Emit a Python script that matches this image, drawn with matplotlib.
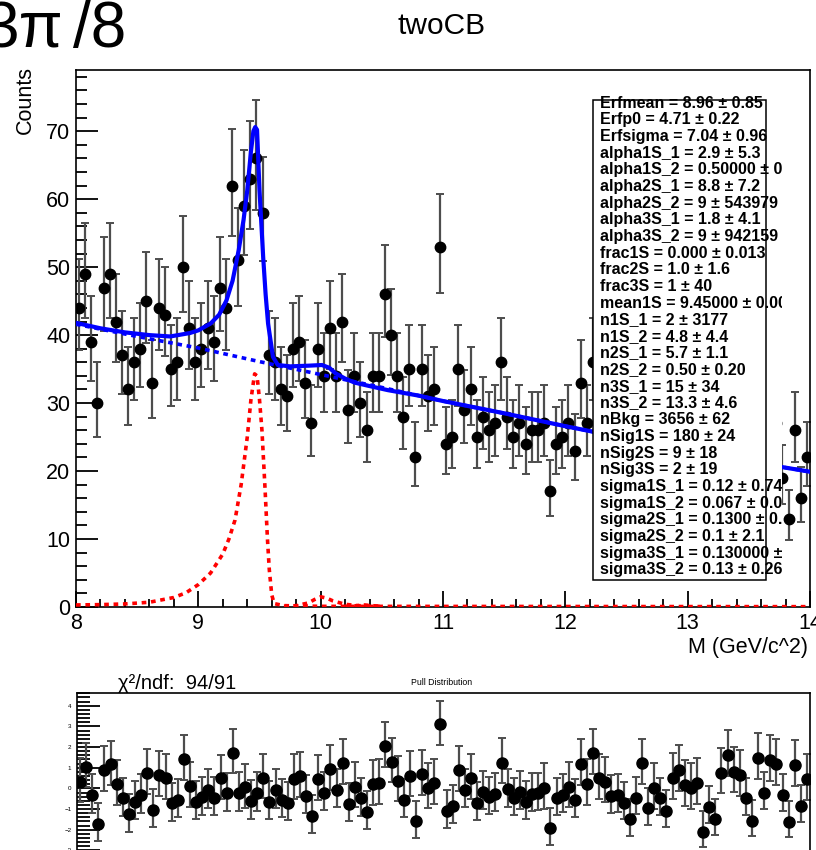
import numpy as np
import matplotlib
matplotlib.use("Agg")
import matplotlib.pyplot as plt
from matplotlib.transforms import Affine2D
from matplotlib.patches import Rectangle
from matplotlib.ticker import MultipleLocator

plt.rcParams['font.family'] = ['Liberation Sans', 'DejaVu Sans']

# 120 bins of 0.05 GeV between 8 and 14
x_lo, x_hi, n_bins = 8.0, 14.0, 120

counts = [44, 49, 39, 30, 47, 49, 42, 37, 32, 36,
          38, 45, 33, 44, 43, 35, 36, 50, 41, 36,
          38, 41, 39, 47, 44, 62, 51, 59, 63, 66,
          58, 37, 36, 32, 31, 38, 39, 33, 27, 38,
          34, 41, 34, 42, 29, 34, 30, 26, 34, 34,
          46, 40, 34, 28, 35, 22, 35, 31, 32, 53,
          24, 25, 35, 29, 32, 25, 28, 26, 27, 36,
          28, 25, 27, 24, 26, 26, 27, 17, 24, 25,
          27, 23, 33, 27, 36, 28, 27, 23, 23, 21,
          17, 22, 30, 19, 24, 21, 18, 26, 28, 24,
          23, 24, 13, 18, 15, 26, 30, 26, 25, 19,
          14, 28, 20, 27, 27, 19, 13, 26, 16, 22]

pulls = [0.32, 1.05, -0.32, -1.73, 0.89, 1.16, 0.21, -0.48, -1.26, -0.65,
         -0.32, 0.73, -1.05, 0.65, 0.48, -0.73, -0.56, 1.42, 0.11, -0.65,
         -0.44, -0.08, -0.45, 0.48, -0.24, 1.73, -0.21, 0.05, -0.60, -0.21,
         0.52, -0.65, -0.08, -0.56, -0.69, 0.47, 0.60, -0.35, -1.34, 0.44,
         -0.21, 0.94, -0.08, 1.21, -0.76, 0.08, -0.48, -1.13, 0.21, 0.24,
         2.05, 1.29, 0.37, -0.56, 0.61, -1.60, 0.68, 0.03, 0.24, 3.10,
         -1.08, -0.84, 0.89, -0.08, 0.48, -0.69, -0.16, -0.44, -0.27, 1.24,
         -0.05, -0.48, -0.16, -0.65, -0.27, -0.24, 0.00, -1.94, -0.48, -0.32,
         0.08, -0.56, 1.18, 0.19, 1.69, 0.48, 0.32, -0.37, -0.32, -0.69,
         -1.50, -0.45, 1.21, -0.97, 0.00, -0.48, -1.08, 0.48, 0.89, 0.16,
         0.00, 0.24, -2.10, -0.89, -1.50, 0.76, 1.61, 0.81, 0.65, -0.48,
         -1.56, 1.45, -0.21, 1.37, 1.18, -0.32, -1.61, 1.13, -0.84, 0.44]

# fitted curves (counts per bin)
total_x = [8.0, 8.2, 8.4, 8.6, 8.77, 8.93, 9.0, 9.1, 9.17, 9.23, 9.28, 9.33,
           9.37, 9.40, 9.43, 9.45, 9.465, 9.48, 9.50, 9.53, 9.55, 9.57, 9.61,
           9.65, 9.75, 9.9, 10.01, 10.07, 10.12, 10.2, 10.28, 10.4, 10.55,
           10.8, 11.0, 11.5, 12.0, 12.5, 13.0, 13.5, 14.0]
total_y = [41.8, 41.0, 40.4, 40.0, 39.8, 40.3, 40.7, 41.7, 43.0, 45.1, 48.0, 52.5,
           57.0, 61.3, 67.0, 70.0, 70.6, 70.2, 61.3, 51.5, 46.0, 41.7, 36.8,
           35.6, 35.4, 35.5, 35.6, 35.2, 34.4, 33.6, 33.0, 32.5, 31.9,
           31.1, 30.3, 28.5, 26.6, 24.8, 23.0, 21.4, 19.9]

bkg_x = [8.0, 8.5, 9.0, 9.5, 10.0, 10.5, 11.0, 11.5, 12.0, 12.5, 13.0, 13.5, 14.0]
bkg_y = [41.6, 39.8, 38.1, 36.1, 34.2, 32.3, 30.3, 28.5, 26.6, 24.8, 23.0, 21.4, 19.9]

sig1s_x = [8.0, 8.2, 8.4, 8.6, 8.8, 8.9, 9.0, 9.1, 9.2, 9.25, 9.3, 9.35, 9.4,
           9.43, 9.46, 9.48, 9.5, 9.52, 9.545, 9.565, 9.58, 9.6, 9.62, 9.7, 10.0, 14.0]
sig1s_y = [0.3, 0.35, 0.45, 0.7, 1.4, 2.1, 3.3, 5.0, 7.8, 10.0, 12.8, 18.0, 25.0,
           30.5, 34.3, 34.0, 30.5, 26.0, 17.5, 10.0, 5.5, 1.8, 0.5, 0.2, 0.1, 0.05]

sig2s_x = [9.7, 9.8, 9.9, 9.95, 10.0, 10.05, 10.1, 10.2, 10.3, 10.5]
sig2s_y = [0.1, 0.2, 0.6, 1.1, 1.5, 1.3, 0.9, 0.4, 0.2, 0.1]

sig3s_x = [10.2, 10.3, 10.36, 10.42, 10.5]
sig3s_y = [0.1, 0.2, 0.3, 0.2, 0.1]

stat_lines = [
    "Erfmean = 8.96 \u00b1 0.85",
    "Erfp0 = 4.71 \u00b1 0.22",
    "Erfsigma = 7.04 \u00b1 0.96",
    "alpha1S_1 = 2.9 \u00b1 5.3",
    "alpha1S_2 = 0.50000 \u00b1 0.00017",
    "alpha2S_1 = 8.8 \u00b1 7.2",
    "alpha2S_2 = 9 \u00b1 543979",
    "alpha3S_1 = 1.8 \u00b1 4.1",
    "alpha3S_2 = 9 \u00b1 942159",
    "frac1S = 0.000 \u00b1 0.013",
    "frac2S = 1.0 \u00b1 1.6",
    "frac3S = 1 \u00b1 40",
    "mean1S = 9.45000 \u00b1 0.00081",
    "n1S_1 = 2 \u00b1 3177",
    "n1S_2 = 4.8 \u00b1 4.4",
    "n2S_1 = 5.7 \u00b1 1.1",
    "n2S_2 = 0.50 \u00b1 0.20",
    "n3S_1 = 15 \u00b1 34",
    "n3S_2 = 13.3 \u00b1 4.6",
    "nBkg = 3656 \u00b1 62",
    "nSig1S = 180 \u00b1 24",
    "nSig2S = 9 \u00b1 18",
    "nSig3S = 2 \u00b1 19",
    "sigma1S_1 = 0.12 \u00b1 0.74",
    "sigma1S_2 = 0.067 \u00b1 0.018",
    "sigma2S_1 = 0.1300 \u00b1 0.0012",
    "sigma2S_2 = 0.1 \u00b1 2.1",
    "sigma3S_1 = 0.130000 \u00b1 0.000011",
    "sigma3S_2 = 0.13 \u00b1 0.26",
]

W, H = 816, 850
fig = plt.figure(figsize=(W / 100, H / 100), dpi=100)
# pixel coordinates, origin at top-left
px = Affine2D().scale(1 / W, -1 / H).translate(0, 1) + fig.transFigure


def axes_px(left, top, right, bottom, **kw):
    return fig.add_axes([left / W, 1 - bottom / H, (right - left) / W, (bottom - top) / H], **kw)


centers = x_lo + (np.arange(n_bins) + 0.5) * (x_hi - x_lo) / n_bins
n = np.array(counts, dtype=float)
err_lo = n - (n + 0.5 - np.sqrt(n + 0.25))
err_hi = (n + 0.5 + np.sqrt(n + 0.25)) - n

dash = (0, (1.3, 1.3))

# ---- top pad
ax = axes_px(76, 70, 810, 607)
ax.errorbar(centers, n, yerr=[err_lo, err_hi], fmt='o', color='black', ms=7.5,
            ecolor='#4d4d4d', elinewidth=1.6, capsize=2.6, capthick=1.4, zorder=2)
ax.plot(sig1s_x, sig1s_y, color='#ff0000', lw=2.6, ls=dash, zorder=3)
ax.plot(sig2s_x, sig2s_y, color='#ff0000', lw=2.6, ls=dash, zorder=3)
ax.plot(sig3s_x, sig3s_y, color='#ff0000', lw=2.6, ls=dash, zorder=3)
ax.plot(bkg_x, bkg_y, color='#0000ff', lw=2.6, ls=dash, zorder=3)
ax.plot(total_x, total_y, color='#0000ff', lw=3.0, zorder=4)

ax.set_xlim(x_lo, x_hi)
ax.set_ylim(0, 79)
ax.xaxis.set_major_locator(MultipleLocator(1))
ax.xaxis.set_minor_locator(MultipleLocator(0.2))
ax.yaxis.set_major_locator(MultipleLocator(10))
ax.yaxis.set_minor_locator(MultipleLocator(2))
ax.tick_params(which='both', direction='in', top=False, right=False, width=1.3,
               labelsize=15.5, pad=4)
ax.tick_params(axis='y', which='major', length=15.8)
ax.tick_params(axis='y', which='minor', length=8)
ax.tick_params(axis='x', which='major', length=11.5)
ax.tick_params(axis='x', which='minor', length=5.8)
for s in ax.spines.values():
    s.set_linewidth(1.2)

# stat box (white fill wider than its drawn border, clips long lines)
box = axes_px(593, 95, 782, 582, zorder=5)
box.set_facecolor('white')
box.set_xticks([])
box.set_yticks([])
for s in box.spines.values():
    s.set_visible(False)
box.add_patch(Rectangle((593, 580), 173, -480, transform=px, fill=False,
                        edgecolor='black', lw=1.1, clip_on=False, zorder=3))
for k, line in enumerate(stat_lines):
    box.text(600, 103 + 16.67 * k, line, transform=px, fontsize=11.5, fontweight='bold',
             ha='left', va='center', clip_on=True)

# ---- bottom pad (pulls)
axp = axes_px(77, 692.5, 810, 900)
p = np.array(pulls)
p_lo = np.where(p >= 0, 1.0, err_lo / err_hi)
p_hi = np.where(p >= 0, err_hi / err_lo, 1.0)
axp.errorbar(centers, p, yerr=[p_lo, p_hi], fmt='o', color='black', ms=8,
             ecolor='#4d4d4d', elinewidth=1.6, capsize=2.6, capthick=1.4)
axp.set_xlim(x_lo, x_hi)
axp.set_ylim(-5.4, 4.64)
axp.yaxis.set_major_locator(MultipleLocator(1))
axp.yaxis.set_minor_locator(MultipleLocator(0.2))
axp.tick_params(which='both', direction='in', top=False, right=False, width=1.3,
                labelsize=4.5, pad=4)
axp.tick_params(axis='y', which='major', length=16.5)
axp.tick_params(axis='y', which='minor', length=9)
for s in axp.spines.values():
    s.set_linewidth(1.2)

# ---- texts
fig.text(63, 47, "3\u03c0", transform=px, fontsize=46, ha='right', va='baseline')
fig.text(126, 47, "/8", transform=px, fontsize=46, ha='right', va='baseline')
fig.text(442, 26, "twoCB", transform=px, fontsize=21.5, ha='center', va='center')
fig.text(25, 100, "Counts", transform=px, fontsize=15.5, rotation=90, ha='center', va='center')
fig.text(808, 653, "M (GeV/c^2)", transform=px, fontsize=15.5, ha='right', va='baseline')
fig.text(118, 684, "\u03c7\u00b2/ndf:  94/91", transform=px, fontsize=14.5, ha='left', va='center')
fig.text(411, 683, "Pull Distribution", transform=px, fontsize=6.3, ha='left', va='center')

fig.savefig("out.png", dpi=100)
